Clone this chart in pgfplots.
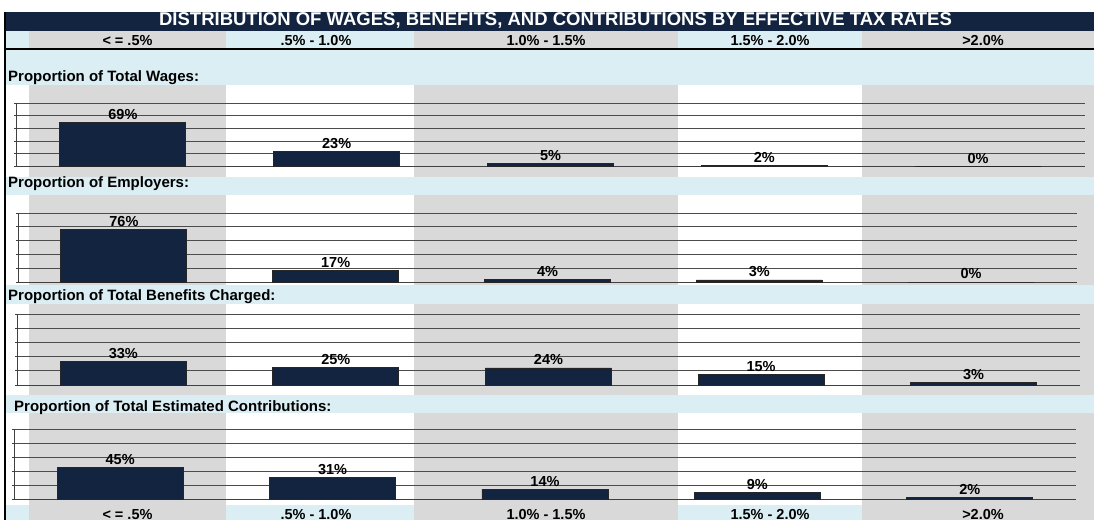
\documentclass[border=0pt]{standalone}
\usepackage{pgfplots}
\pgfplotsset{compat=1.18}
\usepackage{fontspec}
\setmainfont{Liberation Sans}

\definecolor{navy}{HTML}{12243F}
\definecolor{ltblue}{HTML}{DAEEF3}
\definecolor{ltgray}{HTML}{D9D9D9}

% one bar panel: categories at 0..4, values as fractions of 1
\pgfplotsset{
  panel/.style={
    anchor=south west, scale only axis,
    xmin=-0.5, xmax=4.5, ymin=0, ymax=1,
    xtick=\empty, ytick={0,0.2,0.4,0.6,0.8,1}, yticklabels={},
    axis y line*=left, axis x line*=bottom,
    axis line style={black!75, line width=0.9pt},
    tick align=outside, major tick length=2pt,
    tick style={black!75, line width=0.9pt},
    ymajorgrids, grid style={black!70, line width=0.9pt},
    clip=false,
    ybar, bar width=126pt,
    point meta=explicit symbolic,
    nodes near coords,
    nodes near coords style={font=\fontsize{14.5}{16}\selectfont\bfseries, text=black, anchor=south, inner sep=2.5pt},
  },
  panelbar/.style={fill=navy, draw=black!85, line width=0.8pt},
}

\begin{document}
\begin{tikzpicture}[x=1pt,y=1pt]
\path[use as bounding box] (0,0) rectangle (1094,520);

% column stripes
\foreach \a/\b in {29/226, 414/678, 862/1094}
  \fill[ltgray] (\a,0) rectangle (\b,489);
% header row
\foreach \a/\b in {6/29, 226/414, 678/862}
  \fill[ltblue] (\a,471) rectangle (\b,489);
% bottom row
\foreach \a/\b in {6/29, 226/414, 678/862}
  \fill[ltblue] (\a,0) rectangle (\b,15);
% label bands
\fill[ltblue] (6,435) rectangle (1094,470);
\fill[ltblue] (6,325) rectangle (1094,343);
\fill[ltblue] (6,216) rectangle (1094,235);
\fill[ltblue] (6,107) rectangle (1094,125);
% title bar
\fill[navy] (6,489) rectangle (1094,507.5);
\draw[black, line width=1.5pt] (5,471) -- (1094,471);
\draw[black, line width=1.5pt] (5,0) -- (5,507.5);

\node[anchor=base, text=white, font=\fontsize{18.5}{20}\selectfont\bfseries, inner sep=0pt]
  at (555.5,494) {DISTRIBUTION OF WAGES, BENEFITS, AND CONTRIBUTIONS BY EFFECTIVE TAX RATES};

\begin{scope}[every node/.style={anchor=base, inner sep=0pt, font=\fontsize{14.5}{16}\selectfont\bfseries}]
\foreach \x/\t in {127.5/{< = .5\%}, 316/{.5\% - 1.0\%}, 546/{1.0\% - 1.5\%}, 770/{1.5\% - 2.0\%}, 983/{>2.0\%}} {
  \node at (\x,474) {\t};
  \node at (\x,1) {\t};
}
\end{scope}

\begin{scope}[every node/.style={anchor=base west, inner sep=0pt, font=\fontsize{15}{16}\selectfont\bfseries}]
\node at (8,438) {Proportion of Total Wages:};
\node at (8,332) {Proportion of Employers:};
\node at (8,219.5) {Proportion of Total Benefits Charged:};
\node at (14,108.5) {Proportion of Total Estimated Contributions:};
\end{scope}

% Proportion of Total Wages
\begin{axis}[panel, at={(16pt,353.5pt)}, width=1069pt, height=63.5pt]
\addplot[panelbar] coordinates {(0,0.69)[69\%] (1,0.23)[23\%] (2,0.05)[5\%] (3,0.02)[2\%] (4,0.0)[0\%]};
\end{axis}

% Proportion of Employers
\begin{axis}[panel, at={(18pt,238pt)}, width=1059pt, height=69pt]
\addplot[panelbar] coordinates {(0,0.76)[76\%] (1,0.17)[17\%] (2,0.04)[4\%] (3,0.03)[3\%] (4,0.0)[0\%]};
\end{axis}

% Proportion of Total Benefits Charged
\begin{axis}[panel, at={(17pt,135pt)}, width=1063pt, height=71pt]
\addplot[panelbar] coordinates {(0,0.33)[33\%] (1,0.25)[25\%] (2,0.24)[24\%] (3,0.15)[15\%] (4,0.03)[3\%]};
\end{axis}

% Proportion of Total Estimated Contributions
\begin{axis}[panel, at={(14pt,21pt)}, width=1062pt, height=70pt]
\addplot[panelbar] coordinates {(0,0.45)[45\%] (1,0.31)[31\%] (2,0.14)[14\%] (3,0.09)[9\%] (4,0.02)[2\%]};
\end{axis}
\end{tikzpicture}
\end{document}
